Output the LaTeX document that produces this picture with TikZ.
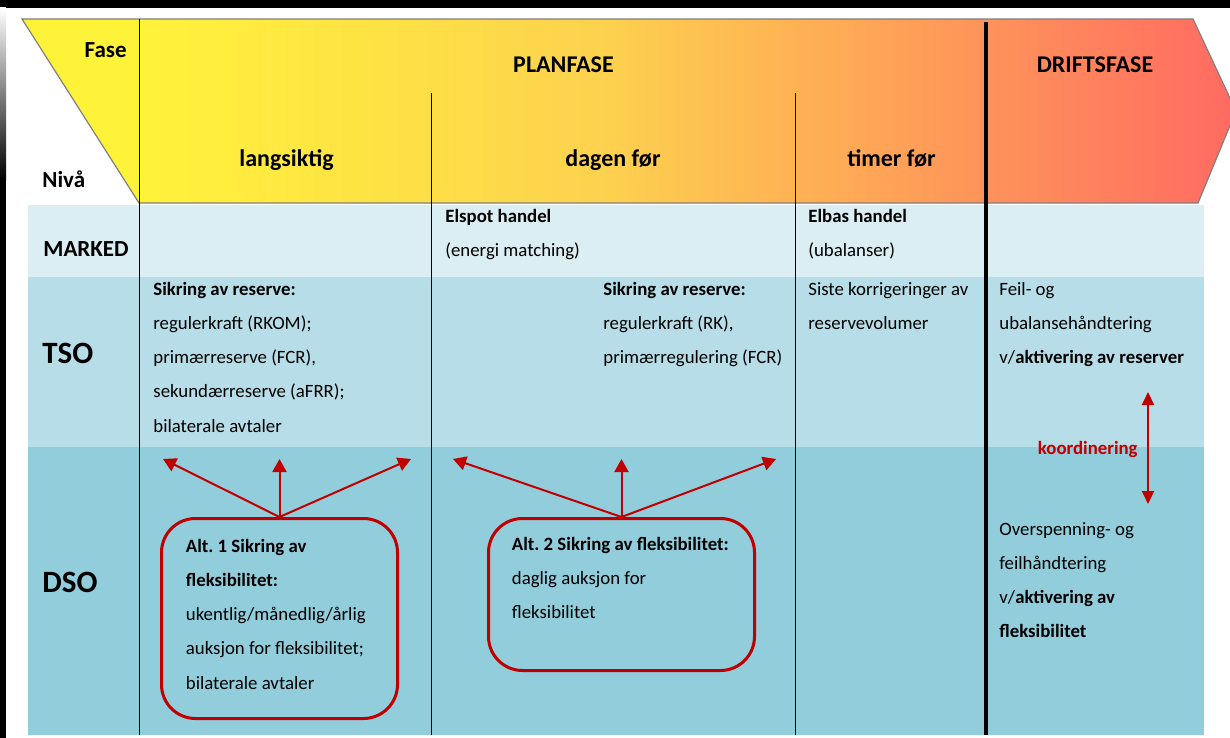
\documentclass[tikz,border=0pt]{standalone}
\usepackage{fontspec}
\setmainfont{Carlito}
\usetikzlibrary{positioning, arrows.meta}
\frenchspacing

\definecolor{hdrY}{RGB}{255,243,58}
\definecolor{hdrM}{RGB}{253,210,78}
\definecolor{hdrR}{RGB}{255,106,98}
\definecolor{markedrow}{RGB}{218,238,243}
\definecolor{tsorow}{RGB}{183,222,232}
\definecolor{dsorow}{RGB}{146,205,220}
\definecolor{flexred}{RGB}{192,0,0}
\definecolor{hdrline}{RGB}{128,128,128}

\pgfdeclarehorizontalshading{fasegrad}{100bp}{color(0bp)=(hdrY); color(29.8bp)=(hdrY); color(48.8bp)=(hdrM); color(75bp)=(hdrR); color(100bp)=(hdrR)}

\tikzset{
  hdr/.style={anchor=base, inner sep=0pt, font=\fontsize{12}{14}\selectfont\bfseries},
  lvl/.style={anchor=base west, inner sep=0pt, font=\fontsize{11.5}{14}\selectfont\bfseries},
  biglvl/.style={lvl, font=\fontsize{15.5}{18}\selectfont\bfseries},
  txt/.style={anchor=north west, inner sep=0pt, align=left, font=\fontsize{9.4}{17.1}\selectfont\frenchspacing},
  flexbox/.style={draw=flexred, line width=1.5pt, rounded corners=17pt},
  flexarrow/.style={draw=flexred, line width=1pt, -{Triangle[length=6.5pt, width=7pt]}},
  colline/.style={draw=black, line width=0.5pt}
}

\begin{document}
\begin{tikzpicture}[x=0.5pt, y=-0.5pt]
\clip (0,0) rectangle (1230,738);
\fill[white] (0,0) rectangle (1230,738);
% frame
\fill[black] (0,0) rectangle (1230,8);
\shade[top color=white, bottom color=black] (0,8) rectangle (6,180);
\fill[black] (0,180) rectangle (6,738);

% rows
\fill[markedrow] (28,205) rectangle (1204,277);
\fill[tsorow] (28,277) rectangle (1204,447);
\fill[dsorow] (28,447) rectangle (1204,735);

% header arrow
\shadedraw[shading=fasegrad, draw=hdrline, line width=0.6pt]
  (22,19) -- (1193,19) -- (1236,111) -- (1198,203) -- (139,203) -- cycle;

% columns
\draw[colline] (139,19) -- (139,735);
\draw[colline] (431,93) -- (431,735);
\draw[colline] (795,93) -- (795,735);
\draw[colline, line width=2pt] (986,22) -- (986,735);

% headings
\node[hdr, anchor=base east, font=\fontsize{11.5}{14}\selectfont\bfseries] (fase) at (127,58) {Fase};
\node[lvl] (niva) at (42,187) {Nivå};
\node[hdr] (plan) at (563.5,73) {PLANFASE};
\node[hdr] (drift) at (1095,73) {DRIFTSFASE};
\node[hdr] (lang) at (286.5,166) {langsiktig};
\node[hdr] (dagen) at (613,166) {dagen før};
\node[hdr] (timer) at (891.5,166) {timer før};
\node[lvl] (marked) at (43,256) {MARKED};
\node[biglvl] (tso) at (42,363) {TSO};
\node[biglvl] (dso) at (42,592) {DSO};

% marked
\node[txt] (elspot) at (445,198) {\strut\textbf{Elspot handel}\\(energi matching)};
\node[txt] (elbas) at (808,198) {\strut\textbf{Elbas handel}\\(ubalanser)};

% tso
\node[txt] (tsolang) at (153,271) {\strut\textbf{Sikring av reserve:}\\regulerkraft (RKOM);\\primærreserve (FCR),\\sekundærreserve (aFRR);\\bilaterale avtaler};
\node[txt] (tsodagen) at (603,271) {\strut\textbf{Sikring av reserve:}\\regulerkraft (RK),\\primærregulering (FCR)};
\node[txt] (tsotimer) at (808,271) {\strut Siste korrigeringer av\\reservevolumer};
\node[txt] (tsodrift) at (999,271) {\strut Feil- og\\ubalansehåndtering\\v/\textbf{aktivering av reserver}};

% dso
\node[txt] (dsodrift) at (999,511) {\strut Overspenning- og\\feilhåndtering\\v/\textbf{aktivering av}\\\textbf{fleksibilitet}};

\node[flexbox, minimum width=118pt, minimum height=100pt] (alt1) at (279.5,618.5) {};
\node[flexbox, minimum width=133pt, minimum height=76pt] (alt2) at (621.5,594.5) {};
\node[txt, below right=5.5pt and 12.75pt of alt1.north west] (alt1txt) {\strut\textbf{Alt. 1 Sikring av}\\\textbf{fleksibilitet:}\\ukentlig/månedlig/årlig\\auksjon for fleksibilitet;\\bilaterale avtaler};
\node[txt, below right=4.35pt and 12.25pt of alt2.north west] (alt2txt) {\strut\textbf{Alt. 2 Sikring av fleksibilitet:}\\daglig auksjon for\\fleksibilitet};

\coordinate (a1l) at (163,459);
\coordinate (a1m) at (279.5,459);
\coordinate (a1r) at (411,459);
\coordinate (a2l) at (453,459);
\coordinate (a2m) at (621.5,459);
\coordinate (a2r) at (776,459);
\foreach \e in {a1l,a1m,a1r} \draw[flexarrow] (alt1.north) -- (\e);
\foreach \e in {a2l,a2m,a2r} \draw[flexarrow] (alt2.north) -- (\e);

% koordinering
\coordinate (ktop) at (1148,392);
\coordinate (kbot) at (1148,504);
\coordinate (kmid) at (1148,449);
\draw[flexred, line width=1pt, {Triangle[length=6.5pt, width=6pt]}-{Triangle[length=6.5pt, width=6pt]}] (ktop) -- (kbot);
\node[left=5pt of kmid, inner sep=0pt, text=flexred, font=\fontsize{9.4}{11}\selectfont\bfseries] (koord) {koordinering};
\end{tikzpicture}
\end{document}
